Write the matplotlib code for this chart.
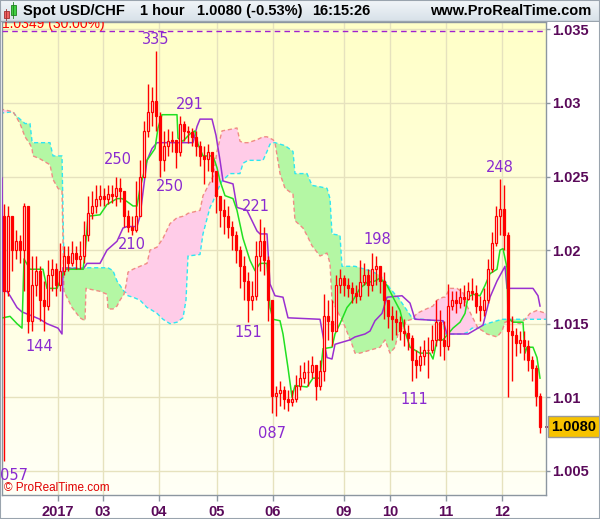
import numpy as np
import matplotlib
matplotlib.use("Agg")
import matplotlib.pyplot as plt
from matplotlib.patches import Rectangle
from matplotlib.colors import LinearSegmentedColormap
from matplotlib.transforms import blended_transform_factory

plt.rcParams["font.family"] = ["Liberation Sans", "DejaVu Sans"]

# --- price bars (one bar ~ 2 hours), open of each bar = previous close ---
open_first = 1.0223
close = [1.0172, 1.0223, 1.0200, 1.0206, 1.0200, 1.0230, 1.0152, 1.0176, 1.0186, 1.0166,
         1.0162, 1.0183, 1.0187, 1.0176, 1.0186, 1.0196, 1.0191, 1.0198, 1.0194, 1.0196,
         1.0210, 1.0225, 1.0230, 1.0235, 1.0237, 1.0235, 1.0238, 1.0237, 1.0242, 1.0240,
         1.0223, 1.0216, 1.0214, 1.0223, 1.0250, 1.0281, 1.0294, 1.0301, 1.0291, 1.0261,
         1.0271, 1.0274, 1.0275, 1.0267, 1.0286, 1.0281, 1.0280, 1.0277, 1.0271, 1.0264,
         1.0262, 1.0267, 1.0254, 1.0237, 1.0227, 1.0223, 1.0216, 1.0210, 1.0200, 1.0189,
         1.0179, 1.0166, 1.0169, 1.0196, 1.0206, 1.0193, 1.0166, 1.0101, 1.0103, 1.0105,
         1.0099, 1.0097, 1.0099, 1.0108, 1.0113, 1.0117, 1.0117, 1.0122, 1.0108, 1.0118,
         1.0155, 1.0152, 1.0145, 1.0176, 1.0181, 1.0176, 1.0174, 1.0171, 1.0169, 1.0178,
         1.0183, 1.0176, 1.0187, 1.0189, 1.0179, 1.0166, 1.0155, 1.0153, 1.0151, 1.0145,
         1.0144, 1.0140, 1.0125, 1.0122, 1.0128, 1.0132, 1.0132, 1.0139, 1.0151, 1.0139,
         1.0135, 1.0162, 1.0166, 1.0164, 1.0168, 1.0167, 1.0172, 1.0171, 1.0162, 1.0159,
         1.0166, 1.0187, 1.0205, 1.0223, 1.0228, 1.0210, 1.0145, 1.0142, 1.0137, 1.0139,
         1.0135, 1.0125, 1.0120, 1.0101, 1.0080]
high = [1.0231, 1.0230, 1.0213, 1.0214, 1.0210, 1.0232, 1.0230, 1.0196, 1.0196, 1.0189,
        1.0179, 1.0193, 1.0194, 1.0191, 1.0205, 1.0203, 1.0203, 1.0206, 1.0203, 1.0206,
        1.0220, 1.0237, 1.0240, 1.0244, 1.0244, 1.0242, 1.0244, 1.0244, 1.0250, 1.0249,
        1.0240, 1.0227, 1.0223, 1.0247, 1.0261, 1.0288, 1.0313, 1.0311, 1.0335, 1.0294,
        1.0281, 1.0282, 1.0281, 1.0275, 1.0291, 1.0288, 1.0284, 1.0283, 1.0281, 1.0274,
        1.0271, 1.0272, 1.0267, 1.0254, 1.0237, 1.0235, 1.0230, 1.0220, 1.0213, 1.0203,
        1.0196, 1.0185, 1.0179, 1.0206, 1.0221, 1.0216, 1.0196, 1.0166, 1.0108, 1.0111,
        1.0108, 1.0105, 1.0105, 1.0115, 1.0122, 1.0124, 1.0125, 1.0128, 1.0122, 1.0125,
        1.0170, 1.0166, 1.0166, 1.0183, 1.0187, 1.0183, 1.0181, 1.0178, 1.0176, 1.0193,
        1.0191, 1.0187, 1.0198, 1.0196, 1.0189, 1.0185, 1.0166, 1.0162, 1.0159, 1.0155,
        1.0153, 1.0149, 1.0142, 1.0132, 1.0135, 1.0139, 1.0141, 1.0149, 1.0166, 1.0159,
        1.0152, 1.0177, 1.0172, 1.0172, 1.0174, 1.0176, 1.0178, 1.0181, 1.0176, 1.0169,
        1.0174, 1.0194, 1.0212, 1.0230, 1.0248, 1.0244, 1.0212, 1.0155, 1.0147, 1.0145,
        1.0145, 1.0139, 1.0128, 1.0122, 1.0103]
low = [1.0057, 1.0169, 1.0186, 1.0194, 1.0191, 1.0172, 1.0144, 1.0145, 1.0169, 1.0152,
       1.0145, 1.0159, 1.0172, 1.0169, 1.0172, 1.0183, 1.0186, 1.0189, 1.0187, 1.0187,
       1.0191, 1.0206, 1.0221, 1.0225, 1.0230, 1.0230, 1.0231, 1.0232, 1.0230, 1.0233,
       1.0216, 1.0212, 1.0210, 1.0212, 1.0223, 1.0250, 1.0277, 1.0284, 1.0281, 1.0250,
       1.0254, 1.0264, 1.0267, 1.0256, 1.0264, 1.0274, 1.0273, 1.0271, 1.0264, 1.0257,
       1.0245, 1.0254, 1.0246, 1.0225, 1.0216, 1.0211, 1.0208, 1.0200, 1.0191, 1.0174,
       1.0166, 1.0151, 1.0159, 1.0166, 1.0186, 1.0183, 1.0152, 1.0089, 1.0087, 1.0094,
       1.0092, 1.0091, 1.0094, 1.0097, 1.0105, 1.0110, 1.0108, 1.0113, 1.0098, 1.0105,
       1.0111, 1.0139, 1.0135, 1.0145, 1.0171, 1.0169, 1.0168, 1.0164, 1.0164, 1.0166,
       1.0176, 1.0169, 1.0172, 1.0176, 1.0171, 1.0153, 1.0147, 1.0139, 1.0142, 1.0139,
       1.0135, 1.0132, 1.0111, 1.0113, 1.0118, 1.0122, 1.0113, 1.0130, 1.0135, 1.0128,
       1.0125, 1.0132, 1.0159, 1.0157, 1.0161, 1.0162, 1.0166, 1.0166, 1.0157, 1.0152,
       1.0155, 1.0164, 1.0185, 1.0203, 1.0210, 1.0200, 1.0100, 1.0111, 1.0128, 1.0130,
       1.0125, 1.0118, 1.0111, 1.0094, 1.0076]

# --- Ichimoku lines (bar position, price) ---
tenkan_x = [-0.25, 1.5, 3.25, 4.5, 5, 6.5, 9.75, 10.75, 13.25, 14, 15.25, 19.75, 20.25, 21, 24,
            25.75, 28.25, 29.5, 30.75, 32.25, 33.25, 34, 35.75, 37.75, 38.5, 39.5, 43.25, 43.5,
            44.75, 46.5, 47.75, 48.5, 49.75, 52.25, 53.25, 54, 55.25, 57.25, 58.25, 59.75, 61.5,
            62.75, 64, 65.75, 66.5, 67.25, 69, 69.75, 71, 72, 72.75, 75.75, 77.25, 79, 79.75, 82,
            82.75, 84, 85.75, 87.25, 89, 90.75, 92.75, 94, 95.75, 97.25, 99, 100.25, 101.5, 104,
            106.5, 107.25, 108.25, 109.75, 111, 112.25, 114, 115.25, 116, 117.25, 119, 120.25,
            121.5, 123.25, 124, 124.75, 125.75, 126, 127.25, 129.75, 130.25, 130.75, 132.25,
            133.25, 134]
tenkan = [1.0154, 1.0155, 1.0150, 1.0147, 1.0194, 1.0187, 1.0187, 1.0174, 1.0174, 1.0179,
          1.0187, 1.0187, 1.0197, 1.0223, 1.0224, 1.0231, 1.0235, 1.0235, 1.0233, 1.0230,
          1.0230, 1.0242, 1.0261, 1.0269, 1.0283, 1.0292, 1.0292, 1.0276, 1.0274, 1.0279,
          1.0281, 1.0272, 1.0264, 1.0264, 1.0256, 1.0247, 1.0237, 1.0235, 1.0227, 1.0208,
          1.0193, 1.0186, 1.0191, 1.0191, 1.0161, 1.0153, 1.0152, 1.0143, 1.0120, 1.0100,
          1.0108, 1.0107, 1.0113, 1.0113, 1.0133, 1.0134, 1.0143, 1.0150, 1.0161, 1.0166,
          1.0174, 1.0178, 1.0179, 1.0181, 1.0176, 1.0168, 1.0159, 1.0145, 1.0134, 1.0130,
          1.0130, 1.0126, 1.0139, 1.0139, 1.0143, 1.0147, 1.0151, 1.0157, 1.0168, 1.0170,
          1.0169, 1.0176, 1.0184, 1.0187, 1.0200, 1.0201, 1.0188, 1.0154, 1.0151, 1.0151,
          1.0130, 1.0134, 1.0134, 1.0127, 1.0113]
kijun_x = [-0.5, -0.25, 0.75, 1.5, 3.25, 4.5, 7.25, 9, 10.75, 13.5, 14.5, 14.75, 19.75, 20.75,
           24, 25.75, 28.25, 29.75, 30.75, 33.25, 34, 35.75, 37, 38.25, 47.25, 48.25, 49, 52,
           53, 54, 54.75, 57.25, 58.25, 60.75, 63.25, 64, 65.75, 66.5, 67.75, 69.75, 71, 79,
           80.75, 82, 82.75, 86.5, 87.75, 90.25, 91.5, 92.75, 94.5, 95.75, 99.5, 101.5, 102.75,
           109.75, 110.75, 116, 119.75, 121.5, 123.25, 125.25, 125.75, 132.25, 133.5, 134]
kijun = [1.0249, 1.0172, 1.0172, 1.0169, 1.0161, 1.0158, 1.0155, 1.0153, 1.0150, 1.0147,
         1.0143, 1.0188, 1.0187, 1.0191, 1.0191, 1.0200, 1.0206, 1.0215, 1.0216, 1.0216,
         1.0223, 1.0261, 1.0269, 1.0273, 1.0273, 1.0284, 1.0289, 1.0289, 1.0278, 1.0261,
         1.0247, 1.0245, 1.0229, 1.0227, 1.0213, 1.0211, 1.0211, 1.0177, 1.0169, 1.0168,
         1.0154, 1.0153, 1.0127, 1.0126, 1.0136, 1.0139, 1.0141, 1.0143, 1.0145, 1.0152,
         1.0157, 1.0168, 1.0169, 1.0164, 1.0153, 1.0152, 1.0143, 1.0143, 1.0149, 1.0168,
         1.0179, 1.0189, 1.0174, 1.0174, 1.0169, 1.0162]
cloud_x = [-1, 2.25, 2.75, 4, 5.25, 6.5, 7, 7.25, 9, 11.5, 12.25, 13.5, 14.5, 15, 17, 19, 20.25,
           20.5, 24, 25.75, 26, 27.25, 28.25, 29, 30, 30.5, 31, 32.25, 34, 35.75, 36.5, 38.25,
           39.75, 41.5, 43.25, 44.75, 45.5, 46, 49, 49.75, 51.5, 52.25, 53.25, 54.5, 56.5, 58.25,
           59, 59.75, 61, 63.25, 64.75, 65.75, 66.5, 67.25, 67.75, 69, 70.25, 72.25, 72.75,
           74.75, 75.75, 77, 79, 80.75, 81.5, 82, 84, 84.5, 87, 87.75, 89, 91.5, 94, 95.25, 96.5,
           97.75, 98.5, 99.5, 100.75, 102, 103.25, 104.75, 107.25, 108.25, 109.75, 110.25, 111.5,
           113.25, 114.75, 115.75, 117, 118.5, 119.75, 120.75, 123.25, 124.5, 125.25, 126.5, 129,
           130.25, 131.5, 133.25, 135.5]
span_a = [1.0293, 1.0294, 1.0292, 1.0289, 1.0286, 1.0286, 1.0274, 1.0273, 1.0273, 1.0273,
          1.0264, 1.0264, 1.0264, 1.0188, 1.0188, 1.0188, 1.0188, 1.0188, 1.0188, 1.0188,
          1.0188, 1.0186, 1.0179, 1.0176, 1.0172, 1.0171, 1.0169, 1.0168, 1.0166, 1.0161,
          1.0160, 1.0157, 1.0153, 1.0150, 1.0151, 1.0154, 1.0166, 1.0196, 1.0197, 1.0211,
          1.0229, 1.0233, 1.0240, 1.0247, 1.0252, 1.0252, 1.0252, 1.0259, 1.0261, 1.0261,
          1.0261, 1.0267, 1.0272, 1.0273, 1.0273, 1.0272, 1.0271, 1.0267, 1.0252, 1.0252,
          1.0252, 1.0244, 1.0243, 1.0242, 1.0235, 1.0211, 1.0210, 1.0189, 1.0189, 1.0189,
          1.0188, 1.0186, 1.0183, 1.0179, 1.0174, 1.0170, 1.0168, 1.0164, 1.0159, 1.0154,
          1.0153, 1.0153, 1.0152, 1.0152, 1.0152, 1.0143, 1.0143, 1.0143, 1.0143, 1.0144,
          1.0147, 1.0147, 1.0149, 1.0150, 1.0152, 1.0153, 1.0153, 1.0153, 1.0153, 1.0153,
          1.0153, 1.0153, 1.0153]
span_b = [1.0296, 1.0294, 1.0292, 1.0286, 1.0277, 1.0272, 1.0269, 1.0264, 1.0262, 1.0258,
          1.0248, 1.0242, 1.0240, 1.0172, 1.0161, 1.0154, 1.0152, 1.0174, 1.0172, 1.0170,
          1.0160, 1.0160, 1.0162, 1.0166, 1.0170, 1.0176, 1.0185, 1.0187, 1.0189, 1.0191,
          1.0200, 1.0202, 1.0208, 1.0218, 1.0222, 1.0223, 1.0224, 1.0225, 1.0227, 1.0237,
          1.0246, 1.0250, 1.0267, 1.0281, 1.0282, 1.0283, 1.0274, 1.0273, 1.0273, 1.0275,
          1.0277, 1.0277, 1.0276, 1.0275, 1.0273, 1.0252, 1.0242, 1.0238, 1.0220, 1.0215,
          1.0210, 1.0203, 1.0196, 1.0198, 1.0191, 1.0166, 1.0155, 1.0153, 1.0136, 1.0130,
          1.0130, 1.0132, 1.0134, 1.0139, 1.0130, 1.0134, 1.0143, 1.0147, 1.0152, 1.0153,
          1.0157, 1.0159, 1.0162, 1.0166, 1.0168, 1.0168, 1.0174, 1.0174, 1.0171, 1.0162,
          1.0155, 1.0147, 1.0145, 1.0143, 1.0141, 1.0145, 1.0151, 1.0152, 1.0150, 1.0153,
          1.0157, 1.0159, 1.0157]

# --- axes labels and annotations ---
date_pos = [13.5, 24.75, 38.75, 53.25, 67.25, 85, 96.5, 110.5, 124.6]
date_labels = ["2017", "03", "04", "05", "06", "09", "10", "11", "12"]
price_ticks = [1.005, 1.01, 1.015, 1.02, 1.025, 1.03, 1.035]
price_labels = ["1.005", "1.01", "1.015", "1.02", "1.025", "1.03", "1.035"]
# (bar, which extreme, label offset in points)
extremes = [(0, "low", 7, -5), (6, "low", 8, -5), (28, "high", 1, 7), (32, "low", 0, -1),
            (38, "high", 0, 3), (39, "low", 7, -2), (44, "high", 7, 3), (61, "low", 0, -2),
            (64, "high", -3, 4), (68, "low", -3, -7), (92, "high", 4, 4), (102, "low", 2, -8),
            (124, "high", 0, 3)]
level_price = 1.0349
level_text = "1.0349 (30.00%)"
title_parts = ["Spot USD/CHF", "1 hour", "1.0080 (-0.53%)", "16:15:26"]

RED = "#ff0000"
AXIS_TXT = "#5a0a5a"

fig = plt.figure(figsize=(6, 5.19), dpi=100)
ax = fig.add_axes([2 / 600, 1 - 495 / 519, 543.5 / 600, 473 / 519])

# background gradient
grad = np.linspace(0, 1, 256).reshape(-1, 1)
bg = LinearSegmentedColormap.from_list("bg", ["#fffff6", "#ffffc8"])
ax.imshow(grad, extent=[0, 1, 1, 0], transform=ax.transAxes, aspect="auto", cmap=bg, zorder=0)

# cloud
cx = np.array(cloud_x)
sa = np.array(span_a)
sb = np.array(span_b)
ax.fill_between(cx, sa, sb, where=sa >= sb, interpolate=True, color="#b4f7a4", lw=0, zorder=1)
ax.fill_between(cx, sa, sb, where=sb > sa, interpolate=True, color="#ffcce8", lw=0, zorder=1)
ax.plot(cx, sa, color="#2ee6f2", lw=1, ls=(0, (3, 2)), zorder=2)
ax.plot(cx, sb, color="#f08c84", lw=1, ls=(0, (3, 2)), zorder=2)

# tenkan / kijun
ax.plot(kijun_x, kijun, color="#9a30d0", lw=1.1, zorder=3)
ax.plot(tenkan_x, tenkan, color="#22e022", lw=1.1, zorder=3)

# candles
c = np.array(close)
o = np.r_[open_first, c[:-1]]
h = np.array(high)
lo = np.array(low)
idx = np.arange(len(c))
up = c >= o
ax.vlines(idx, lo, h, color=RED, lw=1, zorder=4)
ax.bar(idx[~up], (c - o)[~up], bottom=o[~up], width=0.62, color=RED, edgecolor=RED,
       lw=0.9, zorder=5)
ax.bar(idx[up], (c - o)[up], bottom=o[up], width=0.62, facecolor="#fff2f2", edgecolor=RED,
       lw=0.9, zorder=5)

# extreme labels
for bar, kind, dx, dy in extremes:
    p = h[bar] if kind == "high" else lo[bar]
    ax.annotate(f"{round(p * 10000) % 1000:03d}", (bar, p), xytext=(dx, dy),
                textcoords="offset points", ha="center",
                va="bottom" if kind == "high" else "top",
                fontsize=10.5, family="DejaVu Sans", color="#8a2ad0", zorder=7)

# level line, its label mostly hidden under the header
ax.axhline(level_price, color="#a020d0", lw=1, ls=(0, (4, 3)), zorder=3)
ax.text(-0.5, 1.03512, level_text, color=RED, fontsize=10, va="baseline", ha="left",
        clip_on=True, zorder=6)

ax.text(0.004, 0.003, "\u00a9 ProRealTime.com", transform=ax.transAxes, color="#e00000",
        fontsize=8.5, va="bottom", ha="left", zorder=6)

ax.set_xlim(-0.5, 135.375)
ax.set_ylim(1.00336, 1.03550)

ax.set_xticks(date_pos, date_labels)
ax.yaxis.tick_right()
ax.set_yticks(price_ticks, price_labels)
ax.grid(True, color="#e6e2be", lw=1)
ax.set_axisbelow(True)
for g in ax.get_xgridlines() + ax.get_ygridlines():
    g.set_zorder(0.5)
ax.tick_params(axis="x", direction="out", length=4, width=1, color="#8c96a0",
               labelcolor=AXIS_TXT, labelsize=10.5, pad=3)
ax.tick_params(axis="y", direction="out", length=3, width=1, color="#8c96a0",
               labelcolor=AXIS_TXT, labelsize=10.5, pad=2)
for t in ax.get_xticklabels() + ax.get_yticklabels():
    t.set_fontweight("bold")
for s in ax.spines.values():
    s.set_color("#8c96a0")
    s.set_linewidth(1)

# last price box
tr = blended_transform_factory(ax.transAxes, ax.transData)
ax.plot([1.0, 1.006], [c[-1], c[-1]], transform=tr, color="#800040", lw=1.2, clip_on=False)
ax.text(1.0105, c[-1], f"{c[-1]:.4f}", transform=tr, fontsize=10.5, fontweight="bold",
        color="black", va="center", ha="left",
        bbox=dict(boxstyle="square,pad=0.25", facecolor="#f7c300", edgecolor="#9a9a9a", lw=1))

# header bar
hx = fig.add_axes([0, 1 - 22 / 519, 1, 22 / 519], zorder=10)
hx.set_xlim(0, 600)
hx.set_ylim(22, 0)
hx.axis("off")
hb = LinearSegmentedColormap.from_list("hb", ["#f2f6f9", "#d6e0e8"])
hx.imshow(grad, extent=[0, 600, 22, 0], aspect="auto", cmap=hb, zorder=0)
hx.plot([0, 600], [21.5, 21.5], color="#9aa4ae", lw=1)
hx.add_patch(Rectangle((3.5, 11), 5, 7, facecolor="#f06060", edgecolor="#a03030", lw=0.6))
hx.plot([6, 6], [9, 20], color="#a03030", lw=0.6)
hx.add_patch(Rectangle((10.5, 5), 5, 10, facecolor="#40d040", edgecolor="#208020", lw=0.6))
hx.plot([13, 13], [2, 18], color="#208020", lw=0.6)
for xpos, part in zip([23, 140, 197, 312], title_parts):
    hx.text(xpos, 11.5, part, fontsize=10.5, fontweight="bold", va="center", ha="left")
hx.text(591, 11.5, "www.ProRealTime.com", fontsize=10.5, fontweight="bold", va="center",
        ha="right")

fig.patches.append(Rectangle((0, 0), 1, 1, transform=fig.transFigure, fill=False,
                             edgecolor="#9aa4ae", lw=1.5, zorder=20))

fig.savefig("out.png", dpi=100)
